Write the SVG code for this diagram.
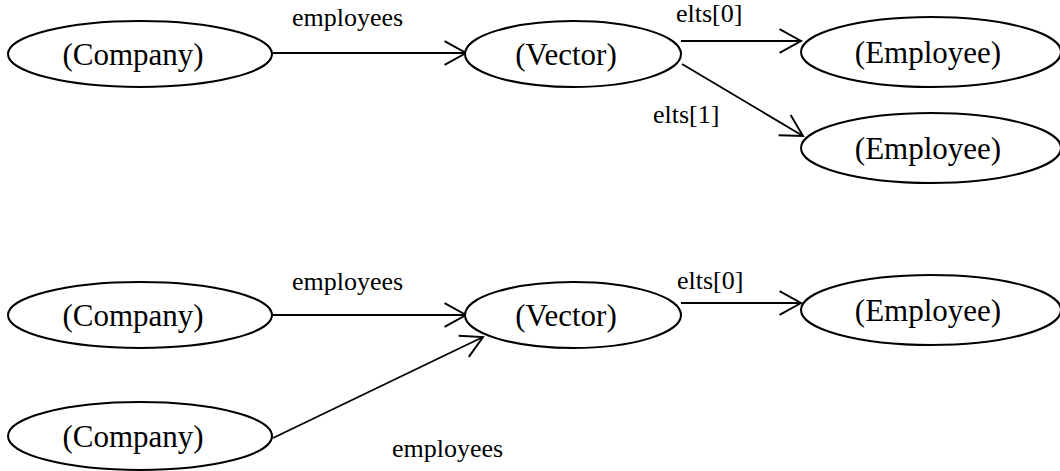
<svg xmlns="http://www.w3.org/2000/svg" width="1060" height="471" viewBox="0 0 1060 471">
<style>
.node ellipse{fill:#fff;stroke:#000;stroke-width:2}
.node text{font-family:"Liberation Serif","Times New Roman",serif;font-size:31px;text-anchor:middle;fill:#000}
.edge line{stroke:#000;stroke-width:1.8;fill:none}
.lbl{font-family:"Liberation Serif","Times New Roman",serif;font-size:26px;fill:#000}
</style>
<defs>
<marker id="arr" markerUnits="userSpaceOnUse" markerWidth="30" markerHeight="30" viewBox="-25 -14 28 28" refX="0" refY="0" orient="auto">
<path d="M-20,-11 L0,0 L-20,11" fill="none" stroke="#000" stroke-width="1.8"/>
</marker>
</defs>
<rect width="1060" height="471" fill="#fff"/>
<g id="connectors" class="edge">
<line x1="273" y1="53" x2="466" y2="53" marker-end="url(#arr)"/>
<line x1="681" y1="41" x2="801" y2="41" marker-end="url(#arr)"/>
<line x1="682" y1="64" x2="803" y2="136" marker-end="url(#arr)"/>
<line x1="273" y1="315" x2="466" y2="315" marker-end="url(#arr)"/>
<line x1="681" y1="303" x2="801" y2="303" marker-end="url(#arr)"/>
<line x1="273" y1="438" x2="483" y2="337" marker-end="url(#arr)"/>
<text class="lbl" x="292" y="26">employees</text>
<text class="lbl" x="676" y="22">elts[0]</text>
<text class="lbl" x="653" y="123">elts[1]</text>
<text class="lbl" x="292" y="290">employees</text>
<text class="lbl" x="677" y="289">elts[0]</text>
<text class="lbl" x="392" y="457">employees</text>
</g>
<g id="company1" class="node"><ellipse cx="140" cy="54" rx="132" ry="33"/><text x="133" y="65">(Company)</text></g>
<g id="vector1" class="node"><ellipse cx="573" cy="54" rx="108" ry="33"/><text x="566" y="65">(Vector)</text></g>
<g id="employee1" class="node"><ellipse cx="931" cy="52" rx="130" ry="35"/><text x="928" y="63">(Employee)</text></g>
<g id="employee2" class="node"><ellipse cx="931" cy="148" rx="130" ry="35"/><text x="928" y="159">(Employee)</text></g>
<g id="company2" class="node"><ellipse cx="140" cy="315" rx="132" ry="33"/><text x="133" y="326">(Company)</text></g>
<g id="vector2" class="node"><ellipse cx="573" cy="315" rx="108" ry="33"/><text x="566" y="326">(Vector)</text></g>
<g id="employee3" class="node"><ellipse cx="931" cy="310" rx="130" ry="35"/><text x="928" y="321">(Employee)</text></g>
<g id="company3" class="node"><ellipse cx="140" cy="436" rx="132" ry="34"/><text x="133" y="447">(Company)</text></g>
</svg>
